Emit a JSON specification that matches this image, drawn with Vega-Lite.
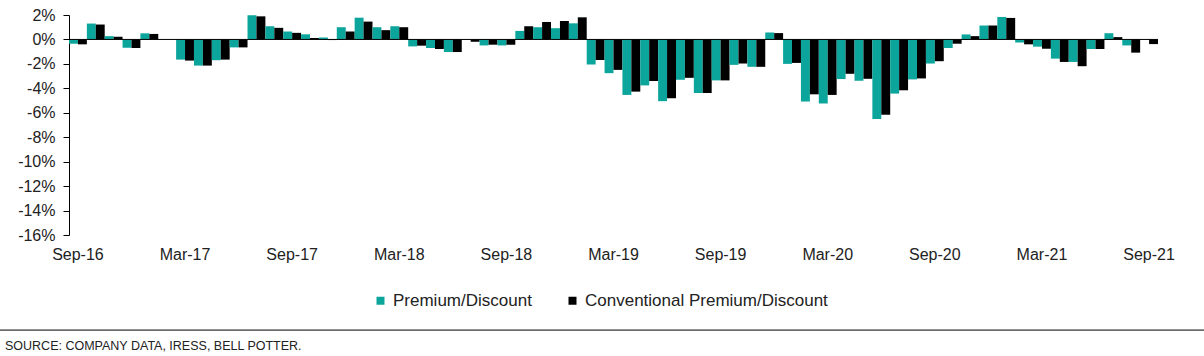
{
  "$schema": "https://vega.github.io/schema/vega-lite/v6.json",
  "width": 1204,
  "height": 220,
  "autosize": "none",
  "padding": {"left": 0, "top": 15, "right": 0, "bottom": 121},
  "background": "white",
  "config": {
    "view": {"stroke": null},
    "font": "Liberation Sans",
    "axis": {"labelFont": "Liberation Sans", "labelColor": "#222222", "grid": false}
  },
  "title": {
    "text": "SOURCE: COMPANY DATA, IRESS, BELL POTTER.",
    "orient": "bottom",
    "anchor": "start",
    "frame": "group",
    "offset": 9,
    "dx": 5,
    "font": "Liberation Sans",
    "fontSize": 12.5,
    "fontWeight": "normal",
    "color": "#222222"
  },
  "datasets": {
    "pd": [
      {"month": "Sep-16", "series": "Premium/Discount", "value": -0.35},
      {"month": "Sep-16", "series": "Conventional Premium/Discount", "value": -0.4},
      {"month": "Oct-16", "series": "Premium/Discount", "value": 1.3},
      {"month": "Oct-16", "series": "Conventional Premium/Discount", "value": 1.22},
      {"month": "Nov-16", "series": "Premium/Discount", "value": 0.27},
      {"month": "Nov-16", "series": "Conventional Premium/Discount", "value": 0.22},
      {"month": "Dec-16", "series": "Premium/Discount", "value": -0.68},
      {"month": "Dec-16", "series": "Conventional Premium/Discount", "value": -0.7},
      {"month": "Jan-17", "series": "Premium/Discount", "value": 0.5},
      {"month": "Jan-17", "series": "Conventional Premium/Discount", "value": 0.45},
      {"month": "Feb-17", "series": "Premium/Discount", "value": 0.02},
      {"month": "Feb-17", "series": "Conventional Premium/Discount", "value": 0.0},
      {"month": "Mar-17", "series": "Premium/Discount", "value": -1.65},
      {"month": "Mar-17", "series": "Conventional Premium/Discount", "value": -1.73},
      {"month": "Apr-17", "series": "Premium/Discount", "value": -2.14},
      {"month": "Apr-17", "series": "Conventional Premium/Discount", "value": -2.14},
      {"month": "May-17", "series": "Premium/Discount", "value": -1.7},
      {"month": "May-17", "series": "Conventional Premium/Discount", "value": -1.65},
      {"month": "Jun-17", "series": "Premium/Discount", "value": -0.65},
      {"month": "Jun-17", "series": "Conventional Premium/Discount", "value": -0.65},
      {"month": "Jul-17", "series": "Premium/Discount", "value": 1.97},
      {"month": "Jul-17", "series": "Conventional Premium/Discount", "value": 1.89},
      {"month": "Aug-17", "series": "Premium/Discount", "value": 1.08},
      {"month": "Aug-17", "series": "Conventional Premium/Discount", "value": 0.95},
      {"month": "Sep-17", "series": "Premium/Discount", "value": 0.65},
      {"month": "Sep-17", "series": "Conventional Premium/Discount", "value": 0.54},
      {"month": "Oct-17", "series": "Premium/Discount", "value": 0.42},
      {"month": "Oct-17", "series": "Conventional Premium/Discount", "value": 0.12},
      {"month": "Nov-17", "series": "Premium/Discount", "value": 0.16},
      {"month": "Nov-17", "series": "Conventional Premium/Discount", "value": -0.05},
      {"month": "Dec-17", "series": "Premium/Discount", "value": 1.0},
      {"month": "Dec-17", "series": "Conventional Premium/Discount", "value": 0.65},
      {"month": "Jan-18", "series": "Premium/Discount", "value": 1.78},
      {"month": "Jan-18", "series": "Conventional Premium/Discount", "value": 1.46},
      {"month": "Feb-18", "series": "Premium/Discount", "value": 1.0},
      {"month": "Feb-18", "series": "Conventional Premium/Discount", "value": 0.76},
      {"month": "Mar-18", "series": "Premium/Discount", "value": 1.08},
      {"month": "Mar-18", "series": "Conventional Premium/Discount", "value": 1.0},
      {"month": "Apr-18", "series": "Premium/Discount", "value": -0.57},
      {"month": "Apr-18", "series": "Conventional Premium/Discount", "value": -0.51},
      {"month": "May-18", "series": "Premium/Discount", "value": -0.7},
      {"month": "May-18", "series": "Conventional Premium/Discount", "value": -0.78},
      {"month": "Jun-18", "series": "Premium/Discount", "value": -1.03},
      {"month": "Jun-18", "series": "Conventional Premium/Discount", "value": -1.03},
      {"month": "Jul-18", "series": "Premium/Discount", "value": -0.02},
      {"month": "Jul-18", "series": "Conventional Premium/Discount", "value": -0.19},
      {"month": "Aug-18", "series": "Premium/Discount", "value": -0.49},
      {"month": "Aug-18", "series": "Conventional Premium/Discount", "value": -0.43},
      {"month": "Sep-18", "series": "Premium/Discount", "value": -0.49},
      {"month": "Sep-18", "series": "Conventional Premium/Discount", "value": -0.43},
      {"month": "Oct-18", "series": "Premium/Discount", "value": 0.7},
      {"month": "Oct-18", "series": "Conventional Premium/Discount", "value": 1.08},
      {"month": "Nov-18", "series": "Premium/Discount", "value": 1.0},
      {"month": "Nov-18", "series": "Conventional Premium/Discount", "value": 1.43},
      {"month": "Dec-18", "series": "Premium/Discount", "value": 0.92},
      {"month": "Dec-18", "series": "Conventional Premium/Discount", "value": 1.51},
      {"month": "Jan-19", "series": "Premium/Discount", "value": 1.32},
      {"month": "Jan-19", "series": "Conventional Premium/Discount", "value": 1.81},
      {"month": "Feb-19", "series": "Premium/Discount", "value": -2.05},
      {"month": "Feb-19", "series": "Conventional Premium/Discount", "value": -1.68},
      {"month": "Mar-19", "series": "Premium/Discount", "value": -2.76},
      {"month": "Mar-19", "series": "Conventional Premium/Discount", "value": -2.49},
      {"month": "Apr-19", "series": "Premium/Discount", "value": -4.54},
      {"month": "Apr-19", "series": "Conventional Premium/Discount", "value": -4.27},
      {"month": "May-19", "series": "Premium/Discount", "value": -3.76},
      {"month": "May-19", "series": "Conventional Premium/Discount", "value": -3.4},
      {"month": "Jun-19", "series": "Premium/Discount", "value": -5.05},
      {"month": "Jun-19", "series": "Conventional Premium/Discount", "value": -4.81},
      {"month": "Jul-19", "series": "Premium/Discount", "value": -3.3},
      {"month": "Jul-19", "series": "Conventional Premium/Discount", "value": -3.14},
      {"month": "Aug-19", "series": "Premium/Discount", "value": -4.38},
      {"month": "Aug-19", "series": "Conventional Premium/Discount", "value": -4.38},
      {"month": "Sep-19", "series": "Premium/Discount", "value": -3.35},
      {"month": "Sep-19", "series": "Conventional Premium/Discount", "value": -3.35},
      {"month": "Oct-19", "series": "Premium/Discount", "value": -2.08},
      {"month": "Oct-19", "series": "Conventional Premium/Discount", "value": -1.97},
      {"month": "Nov-19", "series": "Premium/Discount", "value": -2.24},
      {"month": "Nov-19", "series": "Conventional Premium/Discount", "value": -2.24},
      {"month": "Dec-19", "series": "Premium/Discount", "value": 0.57},
      {"month": "Dec-19", "series": "Conventional Premium/Discount", "value": 0.52},
      {"month": "Jan-20", "series": "Premium/Discount", "value": -2.0},
      {"month": "Jan-20", "series": "Conventional Premium/Discount", "value": -1.92},
      {"month": "Feb-20", "series": "Premium/Discount", "value": -5.08},
      {"month": "Feb-20", "series": "Conventional Premium/Discount", "value": -4.49},
      {"month": "Mar-20", "series": "Premium/Discount", "value": -5.24},
      {"month": "Mar-20", "series": "Conventional Premium/Discount", "value": -4.54},
      {"month": "Apr-20", "series": "Premium/Discount", "value": -3.24},
      {"month": "Apr-20", "series": "Conventional Premium/Discount", "value": -2.81},
      {"month": "May-20", "series": "Premium/Discount", "value": -3.38},
      {"month": "May-20", "series": "Conventional Premium/Discount", "value": -3.22},
      {"month": "Jun-20", "series": "Premium/Discount", "value": -6.51},
      {"month": "Jun-20", "series": "Conventional Premium/Discount", "value": -6.16},
      {"month": "Jul-20", "series": "Premium/Discount", "value": -4.43},
      {"month": "Jul-20", "series": "Conventional Premium/Discount", "value": -4.16},
      {"month": "Aug-20", "series": "Premium/Discount", "value": -3.27},
      {"month": "Aug-20", "series": "Conventional Premium/Discount", "value": -3.19},
      {"month": "Sep-20", "series": "Premium/Discount", "value": -1.97},
      {"month": "Sep-20", "series": "Conventional Premium/Discount", "value": -1.78},
      {"month": "Oct-20", "series": "Premium/Discount", "value": -0.7},
      {"month": "Oct-20", "series": "Conventional Premium/Discount", "value": -0.35},
      {"month": "Nov-20", "series": "Premium/Discount", "value": 0.41},
      {"month": "Nov-20", "series": "Conventional Premium/Discount", "value": 0.27},
      {"month": "Dec-20", "series": "Premium/Discount", "value": 1.14},
      {"month": "Dec-20", "series": "Conventional Premium/Discount", "value": 1.14},
      {"month": "Jan-21", "series": "Premium/Discount", "value": 1.84},
      {"month": "Jan-21", "series": "Conventional Premium/Discount", "value": 1.76},
      {"month": "Feb-21", "series": "Premium/Discount", "value": -0.24},
      {"month": "Feb-21", "series": "Conventional Premium/Discount", "value": -0.4},
      {"month": "Mar-21", "series": "Premium/Discount", "value": -0.59},
      {"month": "Mar-21", "series": "Conventional Premium/Discount", "value": -0.76},
      {"month": "Apr-21", "series": "Premium/Discount", "value": -1.57},
      {"month": "Apr-21", "series": "Conventional Premium/Discount", "value": -1.84},
      {"month": "May-21", "series": "Premium/Discount", "value": -1.84},
      {"month": "May-21", "series": "Conventional Premium/Discount", "value": -2.19},
      {"month": "Jun-21", "series": "Premium/Discount", "value": -0.78},
      {"month": "Jun-21", "series": "Conventional Premium/Discount", "value": -0.78},
      {"month": "Jul-21", "series": "Premium/Discount", "value": 0.51},
      {"month": "Jul-21", "series": "Conventional Premium/Discount", "value": 0.19},
      {"month": "Aug-21", "series": "Premium/Discount", "value": -0.49},
      {"month": "Aug-21", "series": "Conventional Premium/Discount", "value": -1.08},
      {"month": "Sep-21", "series": "Premium/Discount", "value": 0.0},
      {"month": "Sep-21", "series": "Conventional Premium/Discount", "value": -0.38}
    ]
  },
  "layer": [
    {
      "data": {"name": "pd"},
      "mark": {"type": "bar"},
      "encoding": {
        "x": {
          "field": "month",
          "type": "nominal",
          "sort": null,
          "scale": {"paddingInner": 0, "paddingOuter": 0, "range": [69, 1158]},
          "axis": {
            "title": null,
            "domain": false,
            "ticks": false,
            "labelAngle": 0,
            "labelPadding": 11,
            "labelFontSize": 16,
            "labelOverlap": false,
            "values": ["Sep-16", "Mar-17", "Sep-17", "Mar-18", "Sep-18", "Mar-19", "Sep-19", "Mar-20", "Sep-20", "Mar-21", "Sep-21"]
          }
        },
        "xOffset": {
          "field": "series",
          "type": "nominal",
          "sort": ["Premium/Discount", "Conventional Premium/Discount"],
          "scale": {"paddingInner": 0, "paddingOuter": 0}
        },
        "y": {
          "field": "value",
          "type": "quantitative",
          "scale": {"domain": [-16, 2], "nice": false, "zero": false},
          "axis": {
            "title": null,
            "offset": -69,
            "values": [-16, -14, -12, -10, -8, -6, -4, -2, 0, 2],
            "tickCount": 20,
            "labelExpr": "datum.value + '%'",
            "labelFontSize": 16,
            "labelPadding": 8,
            "labelOverlap": false,
            "labelFlush": false,
            "tickSize": 6,
            "tickColor": "#000000",
            "domainColor": "#000000"
          }
        },
        "color": {
          "field": "series",
          "type": "nominal",
          "scale": {"domain": ["Premium/Discount", "Conventional Premium/Discount"], "range": ["#0BA59C", "#000000"]},
          "legend": {
            "title": null,
            "orient": "none",
            "legendX": 372,
            "legendY": 277,
            "direction": "horizontal",
            "symbolType": "square",
            "symbolSize": 64,
            "symbolStrokeWidth": 0,
            "labelFontSize": 17,
            "labelFont": "Liberation Sans",
            "labelColor": "#222222",
            "labelOffset": 4,
            "labelLimit": 400,
            "columnPadding": 32
          }
        }
      }
    },
    {
      "data": {"values": [{}]},
      "mark": {"type": "rule", "color": "#000000", "strokeWidth": 1},
      "encoding": {
        "x": {"datum": "Sep-16", "bandPosition": 0},
        "x2": {"datum": "Sep-21", "bandPosition": 1},
        "y": {"datum": 0}
      }
    },
    {
      "data": {"values": [{}]},
      "mark": {"type": "rule", "color": "#000000", "strokeWidth": 1},
      "encoding": {
        "y": {"datum": -23.78}
      }
    }
  ]
}
